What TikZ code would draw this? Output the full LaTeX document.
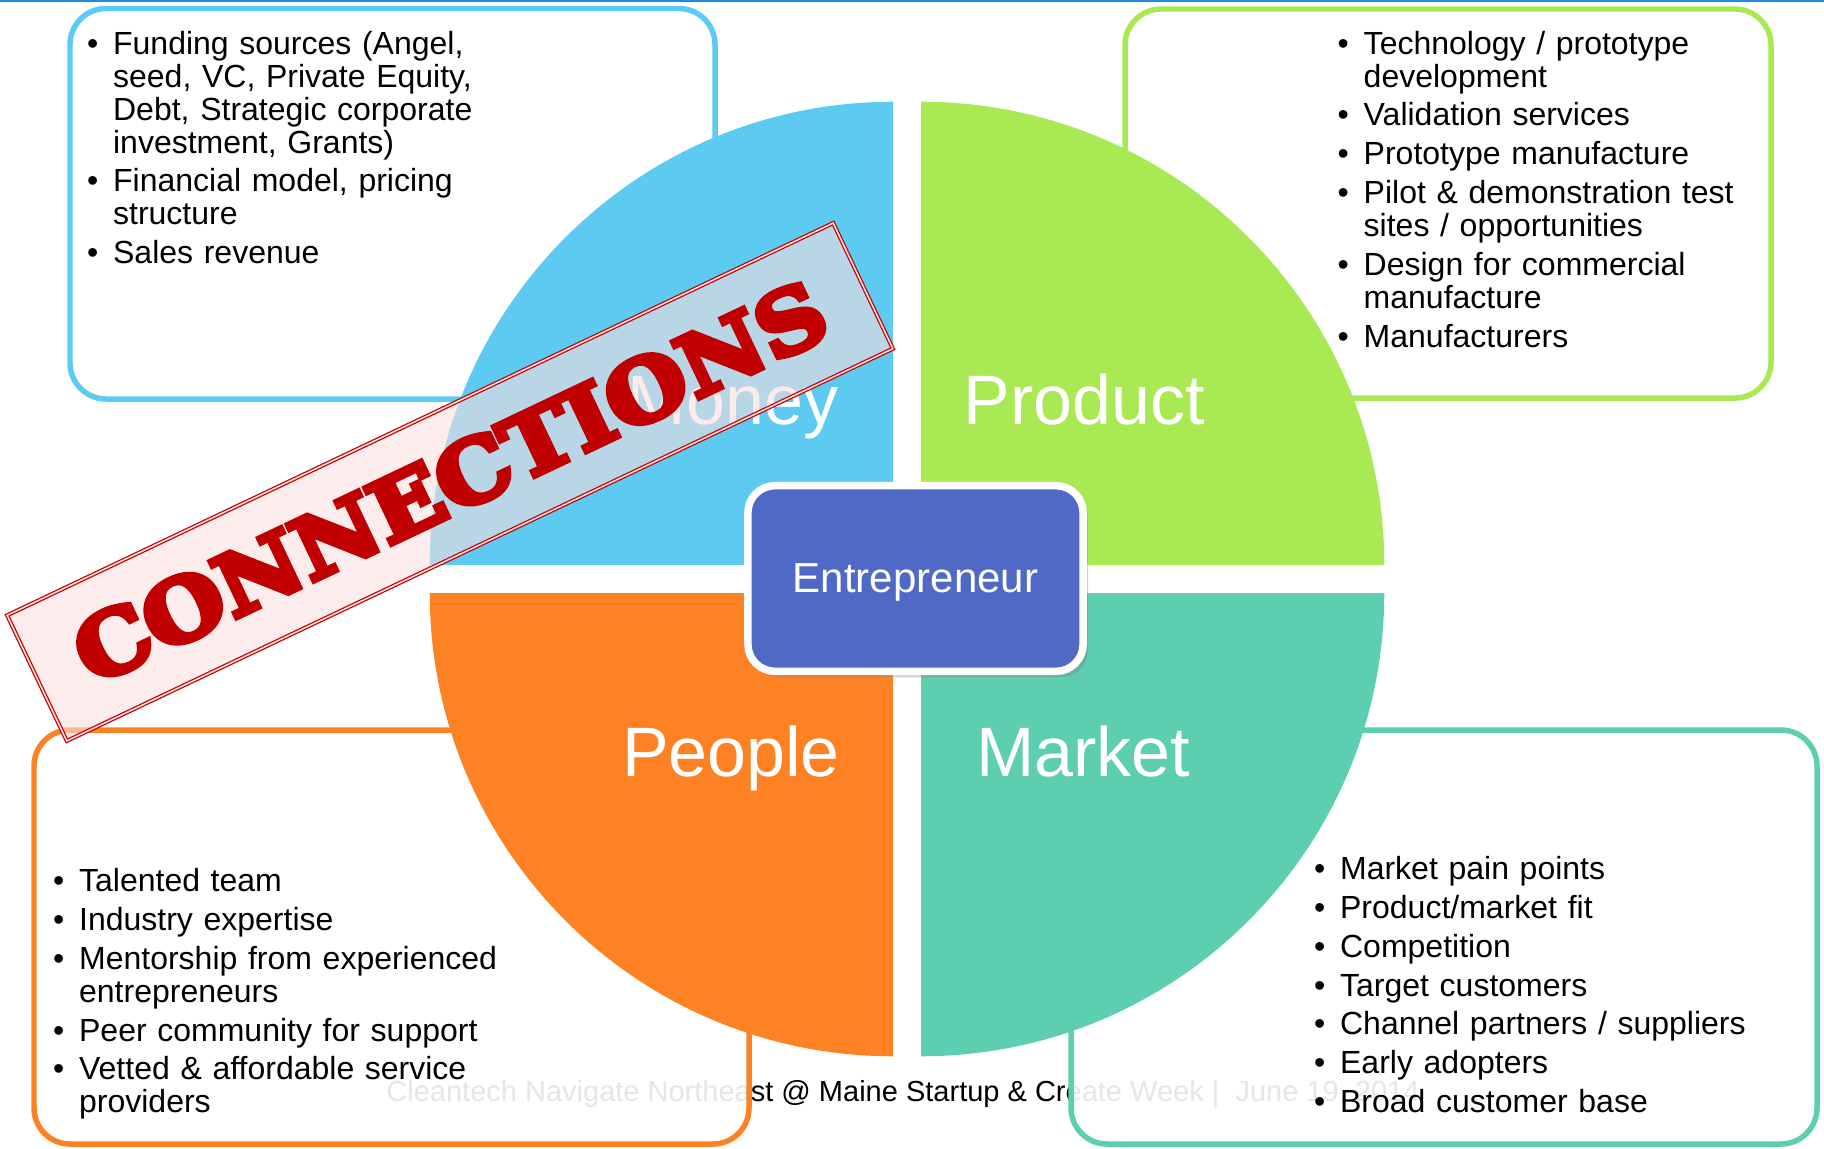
\documentclass[tikz,border=0pt]{standalone}
\usepackage{fontspec}
\setmainfont{Liberation Sans}
\newfontfamily\stampfont{DejaVu Serif}
\usetikzlibrary{shadows}
\definecolor{moneyblue}{RGB}{93,203,241}
\definecolor{productgreen}{RGB}{169,234,84}
\definecolor{peopleorange}{RGB}{254,129,36}
\definecolor{marketteal}{RGB}{93,206,176}
\definecolor{entblue}{RGB}{80,105,199}
\definecolor{stampred}{RGB}{192,0,0}
\definecolor{stamppink}{RGB}{250,222,222}
\definecolor{topblue}{RGB}{30,140,230}
\newcommand{\bitem}[1]{\hangindent=7.4pt\hangafter=1\makebox[7.4pt][l]{\textbullet}#1\par}
\newcommand{\listskip}{\setlength{\parskip}{1.66pt}}
% heavier stamp letters: fill and stroke the glyphs
\newcommand{\heavy}[1]{\special{pdf:literal direct 2 Tr 1.6 w}#1\special{pdf:literal direct 0 Tr}}
\tikzstyle{listbox} = [rounded corners=0.36cm, line width=1.56pt, fill=white, fill opacity=0.9]
\tikzstyle{listtext} = [anchor=base west, inner sep=0pt, text width=5cm, align=left, font=\fontsize{9.1pt}{9.39pt}\selectfont]
\tikzstyle{quadlabel} = [anchor=base, inner sep=0pt, text=white, font=\fontsize{19.9pt}{20pt}\selectfont]
\tikzstyle{entbox} = [rounded corners=0.27cm, fill=entblue, draw=white, line width=2.13pt, minimum width=3.35cm, minimum height=1.855cm, text=white, text depth=0pt, font=\fontsize{11.95pt}{12pt}\selectfont, drop shadow={opacity=0.35, shadow xshift=0.05cm, shadow yshift=-0.06cm}]
\tikzstyle{stamp} = [rotate=25.4, minimum width=9.14cm, minimum height=1.39cm, inner sep=0pt, fill=stamppink, fill opacity=0.58, text opacity=1, draw=stampred, line width=0.35pt, double=stamppink, double distance=0.45pt, text=stampred, font=\stampfont\bfseries\fontsize{24.2pt}{25pt}\selectfont]
\tikzstyle{footer} = [anchor=base, inner sep=0pt, font=\fontsize{8.25pt}{9pt}\selectfont]

\begin{document}
\begin{tikzpicture}[x=0.01cm, y=-0.01cm]
\useasboundingbox (0,0) rectangle (1824,1148);
\draw[topblue, line width=0.45pt] (0,0.8) -- (1824,0.8);
% footer sits under the boxes
\node[footer] (foot) at (903,1101) {Cleantech Navigate Northeast @ Maine Startup \& Create Week \textbar\ \ June 19, 2014};
% the four lists
\draw[listbox, draw=moneyblue] (70,8.5) rectangle (715,399);
\draw[listbox, draw=productgreen] (1125,9) rectangle (1771,398);
\draw[listbox, draw=peopleorange] (34,730) rectangle (749,1144);
\draw[listbox, draw=marketteal] (1071,730) rectangle (1817,1144);
\node[listtext] (moneylist) at (86.4,54) {\listskip
  \bitem{Funding sources (Angel,\newline seed, VC, Private Equity,\newline Debt, Strategic corporate\newline investment, Grants)}
  \bitem{Financial model, pricing\newline structure}
  \bitem{Sales revenue}};
\node[listtext] (productlist) at (1337,54) {\listskip
  \bitem{Technology / prototype\newline development}
  \bitem{Validation services}
  \bitem{Prototype manufacture}
  \bitem{Pilot \& demonstration test\newline sites / opportunities}
  \bitem{Design for commercial\newline manufacture}
  \bitem{Manufacturers}};
\node[listtext] (peoplelist) at (52.4,891.5) {\listskip
  \bitem{Talented team}
  \bitem{Industry expertise}
  \bitem{Mentorship from experienced\newline entrepreneurs}
  \bitem{Peer community for support}
  \bitem{Vetted \& affordable service\newline providers}};
\node[listtext] (marketlist) at (1313.4,879.5) {\listskip
  \bitem{Market pain points}
  \bitem{Product/market fit}
  \bitem{Competition}
  \bitem{Target customers}
  \bitem{Channel partners / suppliers}
  \bitem{Early adopters}
  \bitem{Broad customer base}};
% quarter discs
\fill[moneyblue] (893,565) -- ++(-4.63cm,0) arc[start angle=180, end angle=90, radius=4.63cm] -- cycle;
\fill[productgreen] (921,565) -- ++(4.63cm,0) arc[start angle=0, end angle=90, radius=4.63cm] -- cycle;
\fill[peopleorange] (893,593) -- ++(-4.63cm,0) arc[start angle=180, end angle=270, radius=4.63cm] -- cycle;
\fill[marketteal] (921,593) -- ++(4.63cm,0) arc[start angle=0, end angle=-90, radius=4.63cm] -- cycle;
\node[quadlabel] (money) at (733,424) {Money};
\node[quadlabel] (product) at (1084,424) {Product};
\node[quadlabel] (people) at (731,776) {People};
\node[quadlabel] (market) at (1083,776) {Market};
\node[entbox] (ent) at (915.5,578.5) {Entrepreneur};
% stamp across the money quarter
\node[stamp] (stamp) at (450,482) {\heavy{\scalebox{1.1}[1]{CONNECTIONS}}};
\end{tikzpicture}
\end{document}
